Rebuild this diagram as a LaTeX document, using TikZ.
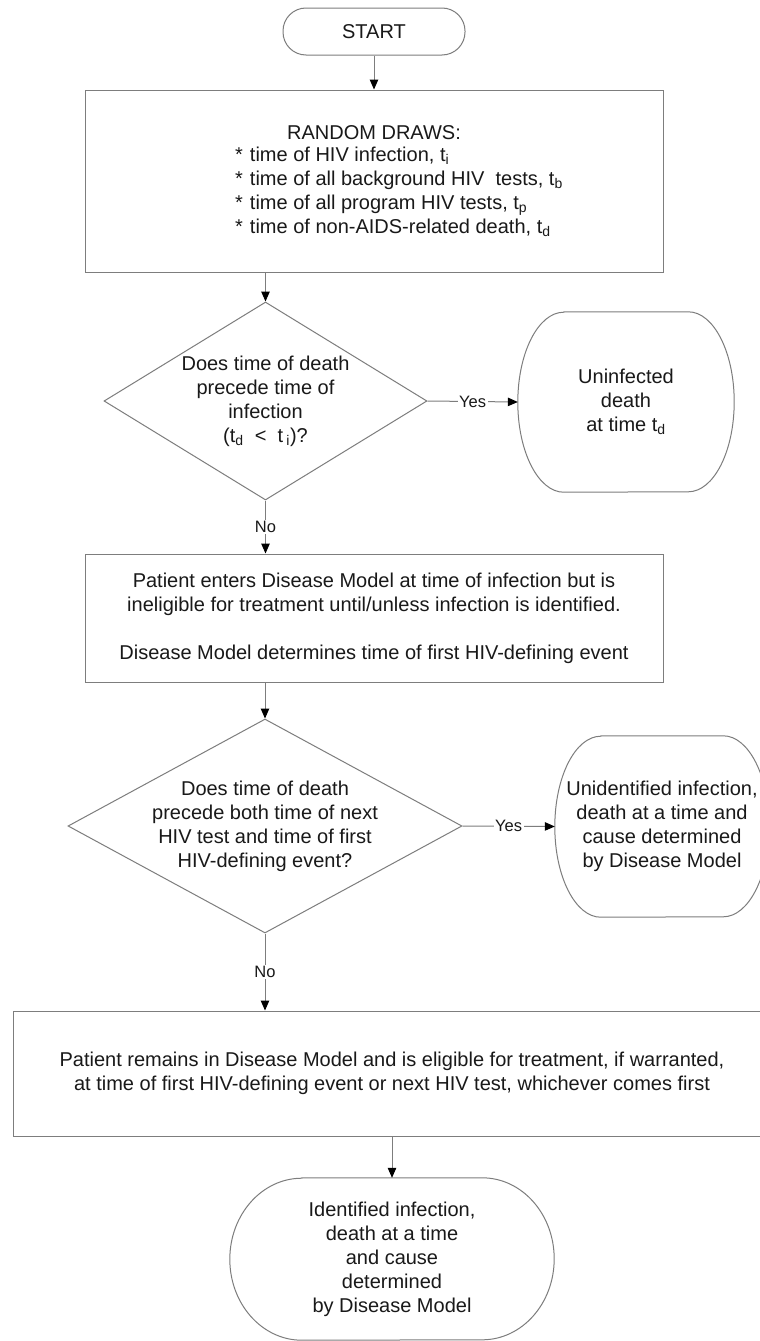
\documentclass[tikz,border=0pt]{standalone}
\usepackage{fontspec}
\setmainfont{Liberation Sans}
\usetikzlibrary{shapes.geometric,arrows.meta}
\definecolor{lngray}{RGB}{125,125,125}
\definecolor{txtcol}{RGB}{25,25,25}
\begin{document}
\begin{tikzpicture}[x=1pt,y=-1pt,
  shapeln/.style={draw=lngray,line width=1pt},
  boxst/.style={shapeln,rectangle,inner sep=0pt},
  txtst/.style={font=\fontsize{20}{24}\selectfont,align=center,text=txtcol,inner sep=0pt},
  lblst/.style={font=\fontsize{16.5}{19}\selectfont,text=txtcol,fill=white,inner sep=1.5pt},
  arrst/.style={draw=lngray,line width=1pt,-{Triangle[length=10pt,width=8.5pt,color=black,fill=black]}},
  termst/.style={rectangle,inner sep=0pt}
]
\useasboundingbox (0,0) rectangle (760,1341);
\fill[white] (0,0) rectangle (760,1341);

% START
\node[boxst,rounded corners=23pt,minimum width=182pt,minimum height=47pt,txtst] (start) at (374,31.5) {START};

% Box 1
\node[boxst,minimum width=578pt,minimum height=182pt] (box1) at (374,181) {};
\node[txtst] (title1) at (374,133) {RANDOM DRAWS:};
\node[txtst,anchor=west,align=left] (list1) at (235,193) {%
\begin{tabular}{@{}l@{\hspace{7pt}}l@{}}
{*}& time of HIV infection, t\textsubscript{i}\\
{*}& time of all background HIV\ \ tests, t\textsubscript{b}\\
{*}& time of all program HIV tests, t\textsubscript{p}\\
{*}& time of non-AIDS-related death, t\textsubscript{d}
\end{tabular}};

% Diamond 1
\node[shapeln,diamond,minimum width=323pt,minimum height=198pt,inner sep=0pt] (d1) at (265.5,401) {};
\node[txtst] (d1t) at (d1.center) {Does time of death\\precede time of\\infection\\(t\textsubscript{d}\ \ <\ \ t\,\textsubscript{i})?};

% Terminal 1
\node[termst,txtst,minimum width=216pt,minimum height=180pt] (t1) at (626,402) {Uninfected\\death\\at time t\textsubscript{d}};
\draw[shapeln] ([xshift=46pt]t1.north west) -- ([xshift=-46pt]t1.north east)
  arc[start angle=90,end angle=-90,x radius=46pt,y radius=90pt]
  -- ([xshift=46pt]t1.south west)
  arc[start angle=270,end angle=90,x radius=46pt,y radius=90pt] -- cycle;

% Box 2
\node[boxst,txtst,minimum width=578pt,minimum height=128pt] (box2) at (374,618) {Patient enters Disease Model at time of infection but is\\ineligible for treatment until/unless infection is identified.\\[24pt]Disease Model determines time of first HIV-defining event};

% Diamond 2
\node[shapeln,diamond,minimum width=394pt,minimum height=214pt,inner sep=0pt] (d2) at (265,826) {};
\node[txtst] (d2t) at (d2.center) {Does time of death\\precede both time of next\\HIV test and time of first\\HIV-defining event?};

% Terminal 2
\node[termst,txtst,minimum width=214pt,minimum height=181pt] (t2) at (662,826.5) {Unidentified infection,\\death at a time and\\cause determined\\by Disease Model};
\draw[shapeln] ([xshift=46pt]t2.north west) -- ([xshift=-46pt]t2.north east)
  arc[start angle=90,end angle=-90,x radius=46pt,y radius=90.5pt]
  -- ([xshift=46pt]t2.south west)
  arc[start angle=270,end angle=90,x radius=46pt,y radius=90.5pt] -- cycle;

% Box 3
\node[boxst,txtst,minimum width=758pt,minimum height=125pt] (box3) at (392,1073.5) {Patient remains in Disease Model and is eligible for treatment, if warranted,\\at time of first HIV-defining event or next HIV test, whichever comes first};

% Terminal 3
\node[termst,txtst,minimum width=324pt,minimum height=162pt] (t3) at (392,1259) {Identified infection,\\death at a time\\and cause\\determined\\by Disease Model};
\draw[shapeln] ([xshift=72pt]t3.north west) -- ([xshift=-72pt]t3.north east)
  arc[start angle=90,end angle=-90,x radius=72pt,y radius=81pt]
  -- ([xshift=72pt]t3.south west)
  arc[start angle=270,end angle=90,x radius=72pt,y radius=81pt] -- cycle;

% Connectors
\draw[arrst] (start.south) -- (box1.north);
\draw[arrst] (box1.south -| d1.north) -- (d1.north);
\draw[arrst] (d1.east) -- node[lblst] (yes1) {Yes} (t1.west);
\draw[arrst] (d1.south) -- node[lblst] (no1) {No} (d1.south |- box2.north);
\draw[arrst] (box2.south -| d2.north) -- (d2.north);
\draw[arrst] (d2.east) -- node[lblst] (yes2) {Yes} (t2.west);
\draw[arrst] (d2.south) -- node[lblst] (no2) {No} (d2.south |- box3.north);
\draw[arrst] (box3.south) -- (t3.north);
\end{tikzpicture}
\end{document}
